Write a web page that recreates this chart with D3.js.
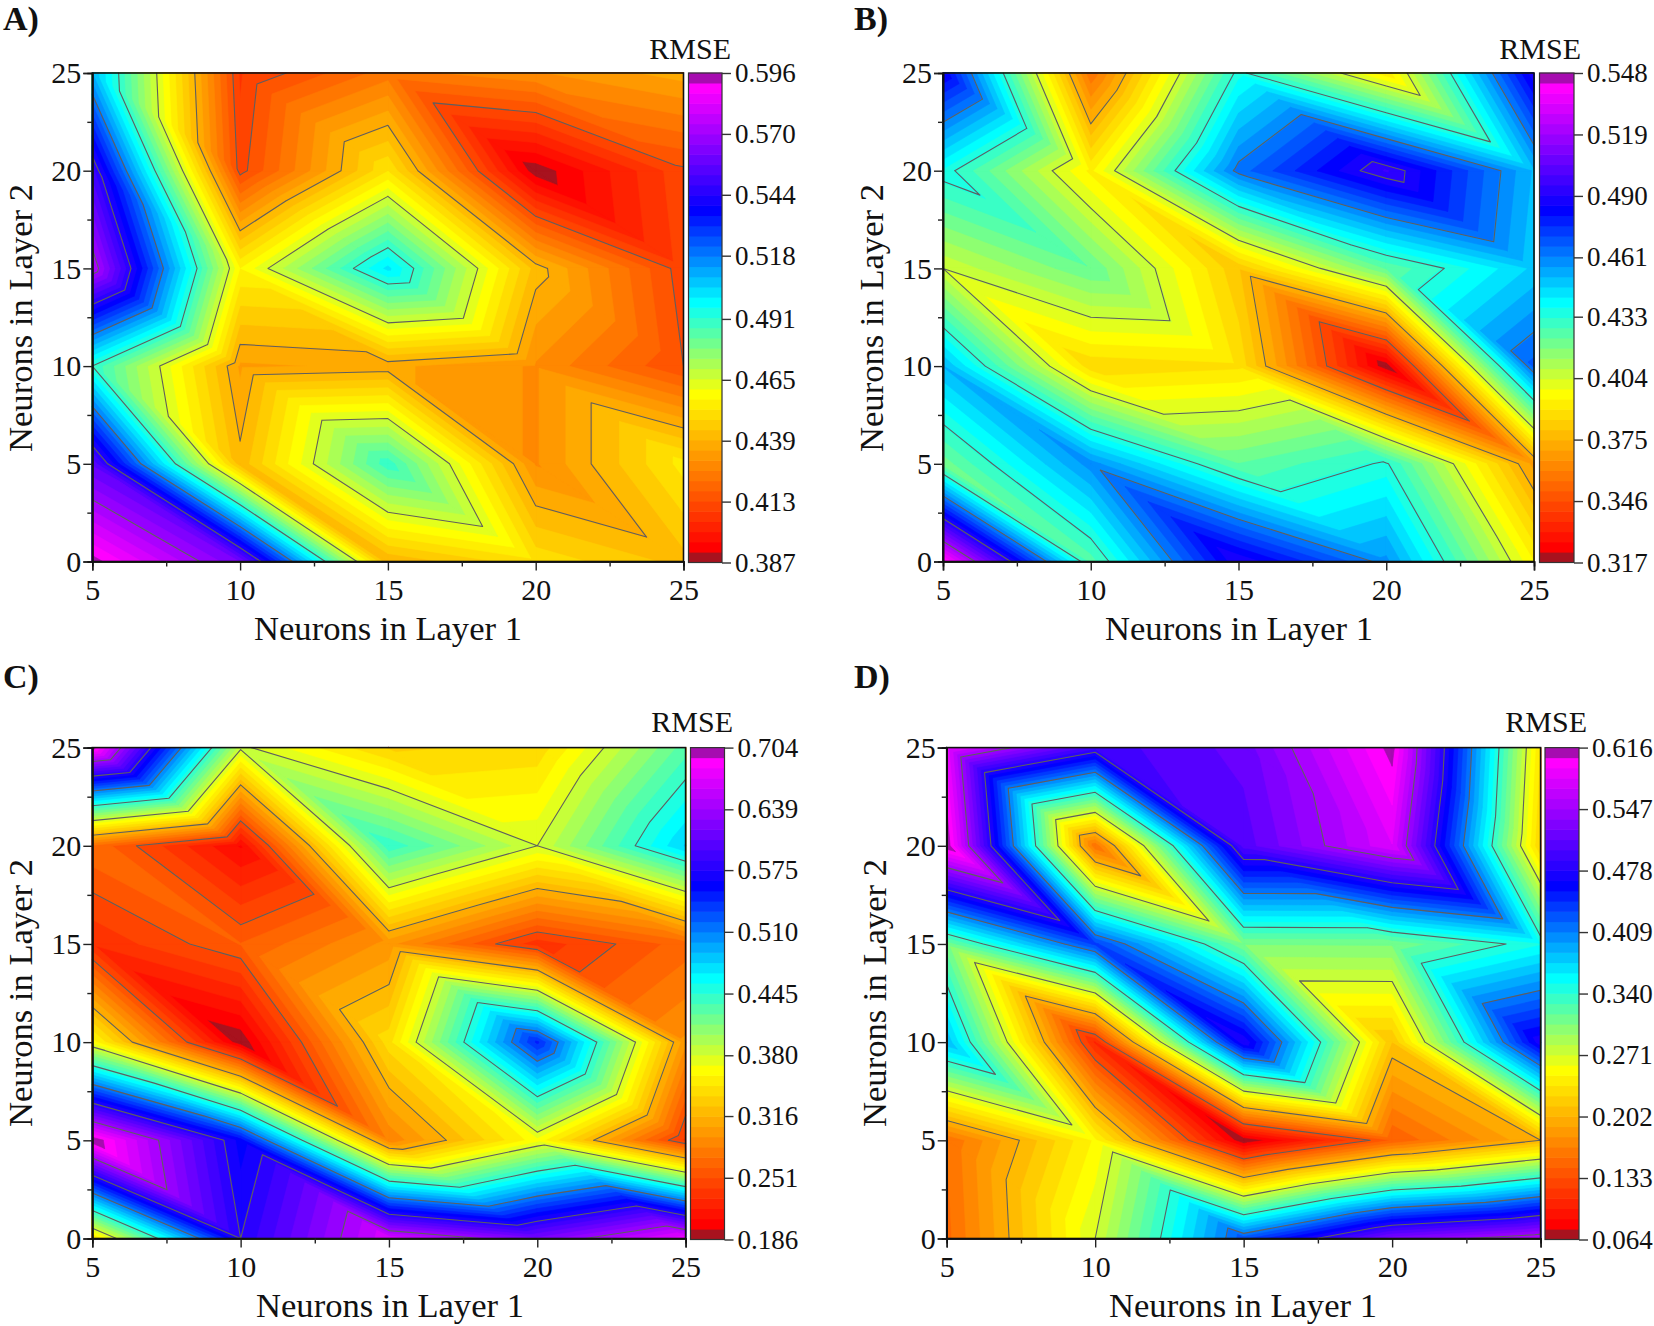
<!DOCTYPE html>
<html>
<head>
<meta charset="utf-8">
<script src="https://cdn.jsdelivr.net/npm/d3@7"></script>
<style>
html,body{margin:0;padding:0;background:#fff}
svg{display:block}
text{font-family:"Liberation Serif",serif;fill:#111}
</style>
</head>
<body>
<svg id="c" width="1654" height="1326"></svg>
<script>
// Grid coordinates
const layer1 = [5, 10, 15, 20, 25];
const layer2 = [25, 20, 15, 10, 5, 0];
const xTicks = [5, 10, 15, 20, 25];
const yTicks = [0, 5, 10, 15, 20, 25];
const minorTicks = [7.5, 12.5, 17.5, 22.5];
const yMinorTicks = [2.5, 7.5, 12.5, 17.5, 22.5];

// RMSE per Layer-1 column, listed from Layer 2 = 25 down to 0
const rmseA = [
  [.509, .55, .575, .491, .556, .594],
  [.408, .411, .4565, .434, .4405, .561],
  [.424, .452, .5015, .436, .49, .4395],
  [.43, .388, .4415, .43, .43, .451],
  [.437, .412, .4103, .413, .454, .442]
];
const rmseB = [
  [.486, .4365, .404, .452, .42, .545],
  [.356, .3925, .4225, .3855, .459, .425],
  [.4354, .4635, .38, .388, .423, .49],
  [.39, .4957, .4233, .3177, .434, .458],
  [.489, .451, .448, .468, .368, .394]
];
const rmseC = [
  [.70, .27, .23, .3636, .704, .342],
  [.3835, .206, .262, .187, .5586, .575],
  [.335, .442, .297, .343, .285, .67],
  [.34, .38, .233, .545, .365, .62],
  [.429, .4785, .267, .296, .236, .679]
];
const rmseD = [
  [.588, .615, .309, .384, .156, .152],
  [.494, .156, .435, .107, .25, .271],
  [.517, .506, .306, .477, .064, .428],
  [.61, .581, .307, .213, .145, .53],
  [.235, .2225, .35, .475, .202, .563]
];

// Colour-bar labels
const barA = ["0.387","0.413","0.439","0.465","0.491","0.518","0.544","0.570","0.596"];
const barB = ["0.317","0.346","0.375","0.404","0.433","0.461","0.490","0.519","0.548"];
const barC = ["0.186","0.251","0.316","0.380","0.445","0.510","0.575","0.639","0.704"];
const barD = ["0.064","0.133","0.202","0.271","0.340","0.409","0.478","0.547","0.616"];

const bandCount = 48;
const colourIndex = d3.scaleLinear()
  .domain([1, 16, 25, 34, 46])
  .range(["#ff0000", "#ffff00", "#00ffff", "#0000ff", "#ff00ff"])
  .interpolate(d3.interpolateRgb)
  .clamp(true);
function bandColour(i) {
  if (i === 0) return "#a8121e";
  if (i === bandCount - 1) return "#a60cb0";
  return colourIndex(i);
}

const layouts = [
  {name:"A)", data:rmseA, bar:barA, lx:3,  ly:30, L:92.3, R:683.5, T:73, B:561.5, cL:688.5, cR:722, rmseR:731, rmseY:59, xlab:388, xlabY:640, ylabX:32, ylabY:318, tickY:600},
  {name:"B)", data:rmseB, bar:barB, lx:854,ly:30, L:943, R:1534, T:73, B:561.5, cL:1539.5, cR:1574, rmseR:1581, rmseY:59, xlab:1239, xlabY:640, ylabX:883, ylabY:318, tickY:600},
  {name:"C)", data:rmseC, bar:barC, lx:3,  ly:688, L:92.3, R:685.6, T:747.6, B:1238.5, cL:690.5, cR:724.5, rmseR:733, rmseY:732, xlab:390, xlabY:1317, ylabX:32, ylabY:993, tickY:1277},
  {name:"D)", data:rmseD, bar:barD, lx:854,ly:688, L:946.7, R:1540.6, T:747.6, B:1238.5, cL:1545, cR:1579, rmseR:1587, rmseY:732, xlab:1243, xlabY:1317, ylabX:886, ylabY:993, tickY:1277}
];

const svg = d3.select("#c");

function clipAbove(poly, level) {
  const out = [];
  for (let i = 0; i < poly.length; i++) {
    const a = poly[i], b = poly[(i + 1) % poly.length];
    const ai = a.v >= level, bi = b.v >= level;
    if (ai) out.push(a);
    if (ai !== bi) {
      const t = (level - a.v) / (b.v - a.v);
      out.push({x: a.x + t * (b.x - a.x), y: a.y + t * (b.y - a.y), v: level});
    }
  }
  return out;
}
function contourSegment(tri, level) {
  const pts = [];
  const L = level + 1e-7;
  for (let i = 0; i < 3; i++) {
    const a = tri[i], b = tri[(i + 1) % 3];
    if ((a.v >= L) !== (b.v >= L)) {
      const t = (L - a.v) / (b.v - a.v);
      pts.push([a.x + t * (b.x - a.x), a.y + t * (b.y - a.y)]);
    }
  }
  return pts.length === 2 ? pts : null;
}

layouts.forEach((p, pi) => {
  const x = d3.scaleLinear().domain([5, 25]).range([p.L, p.R]);
  const y = d3.scaleLinear().domain([0, 25]).range([p.B, p.T]);
  const ticksNum = p.bar.map(Number);
  const vMin = ticksNum[0], vMax = ticksNum[ticksNum.length - 1];
  const edges = d3.range(bandCount).map(i => vMin + i * (vMax - vMin) / bandCount);
  const g = svg.append("g");

  // triangulated grid: each cell split along its top-left to bottom-right diagonal
  const tris = [];
  for (let i = 0; i < layer1.length - 1; i++) {
    for (let j = 0; j < layer2.length - 1; j++) {
      const n = (a, b) => ({x: x(layer1[a]), y: y(layer2[b]), v: p.data[a][b]});
      const TL = n(i, j), TR = n(i + 1, j), BL = n(i, j + 1), BR = n(i + 1, j + 1);
      tris.push([TL, TR, BR], [TL, BR, BL]);
    }
  }

  // filled bands, painted from the lowest up
  edges.forEach((lv, bi) => {
    let dStr = "";
    const level = bi === 0 ? -Infinity : lv;
    tris.forEach(t => {
      const c = bi === 0 ? t : clipAbove(t, level);
      if (c.length >= 3) {
        dStr += "M" + c.map(q => q.x.toFixed(2) + "," + q.y.toFixed(2)).join("L") + "Z";
      }
    });
    if (dStr) {
      g.append("path").attr("d", dStr)
        .attr("fill", bandColour(bi))
        .attr("stroke", bandColour(bi))
        .attr("stroke-width", 0.6)
        .attr("stroke-linejoin", "round");
    }
  });

  // contour lines at the labelled levels
  ticksNum.slice(1, -1).forEach(lv => {
    let dStr = "";
    tris.forEach(t => {
      const s = contourSegment(t, lv);
      if (s) dStr += "M" + s[0][0].toFixed(2) + "," + s[0][1].toFixed(2) + "L" + s[1][0].toFixed(2) + "," + s[1][1].toFixed(2);
    });
    g.append("path").attr("d", dStr).attr("fill", "none")
      .attr("stroke", "#5f5f5f").attr("stroke-width", 1.1).attr("stroke-linecap", "round");
  });

  // frame
  g.append("rect").attr("x", p.L).attr("y", p.T).attr("width", p.R - p.L).attr("height", p.B - p.T)
    .attr("fill", "none").attr("stroke", "#111").attr("stroke-width", 1.6);

  // axes
  const styleAxis = a => {
    a.selectAll("path").attr("stroke", "#111").attr("stroke-width", 1.6);
    a.selectAll("line").attr("stroke", "#222").attr("stroke-width", 1.4);
    a.selectAll("text").style("font-family", '"Liberation Serif",serif').attr("fill", "#111");
  };
  const xa = g.append("g").attr("transform", `translate(0,${p.B})`)
    .call(d3.axisBottom(x).tickValues(xTicks).tickSize(9).tickPadding(6).tickFormat(d3.format("d")));
  xa.selectAll("text").attr("font-size", 30).attr("dy", null)
    .attr("y", p.tickY - p.B);
  styleAxis(xa);
  const xm = g.append("g").attr("transform", `translate(0,${p.B})`)
    .call(d3.axisBottom(x).tickValues(minorTicks).tickSize(5).tickFormat(""));
  styleAxis(xm);
  const ya = g.append("g").attr("transform", `translate(${p.L},0)`)
    .call(d3.axisLeft(y).tickValues(yTicks).tickSize(9).tickPadding(2).tickFormat(d3.format("d")));
  ya.selectAll("text").attr("font-size", 30);
  styleAxis(ya);
  const ym = g.append("g").attr("transform", `translate(${p.L},0)`)
    .call(d3.axisLeft(y).tickValues(yMinorTicks).tickSize(5).tickFormat(""));
  styleAxis(ym);

  // colour bar
  const cb = d3.scaleLinear().domain([vMin, vMax]).range([p.B + 1, p.T]);
  const bandH = d3.scaleBand().domain(d3.range(bandCount)).range([p.B + 1, p.T]);
  g.selectAll("rect.band").data(d3.range(bandCount)).enter().append("rect")
    .attr("class", "band")
    .attr("x", p.cL).attr("width", p.cR - p.cL)
    .attr("y", i => bandH(i) - 0.3).attr("height", bandH.bandwidth() + 0.6)
    .attr("fill", bandColour);
  g.append("rect").attr("x", p.cL).attr("y", p.T).attr("width", p.cR - p.cL).attr("height", p.B + 1 - p.T)
    .attr("fill", "none").attr("stroke", "#333").attr("stroke-width", 1.2);
  const ca = g.append("g").attr("transform", `translate(${p.cR},0)`)
    .call(d3.axisRight(cb).tickValues(ticksNum).tickSize(9).tickPadding(4).tickFormat((d, i) => p.bar[i]));
  ca.select("path").remove();
  ca.selectAll("text").attr("font-size", 27);
  ca.selectAll("line").attr("stroke", "#333").attr("stroke-width", 1.4);
  ca.selectAll("text").style("font-family", '"Liberation Serif",serif').attr("fill", "#111");

  // titles
  g.append("text").text("RMSE").attr("x", p.rmseR).attr("y", p.rmseY)
    .attr("text-anchor", "end").attr("font-size", 30);
  g.append("text").text("Neurons in Layer 1").attr("x", p.xlab).attr("y", p.xlabY)
    .attr("text-anchor", "middle").attr("font-size", 34.6);
  g.append("text").text("Neurons in Layer 2")
    .attr("transform", `translate(${p.ylabX},${p.ylabY}) rotate(-90)`)
    .attr("text-anchor", "middle").attr("font-size", 34.6);
  g.append("text").text(p.name).attr("x", p.lx).attr("y", p.ly)
    .attr("font-size", 34).attr("font-weight", "bold");
});
</script>
</body>
</html>
